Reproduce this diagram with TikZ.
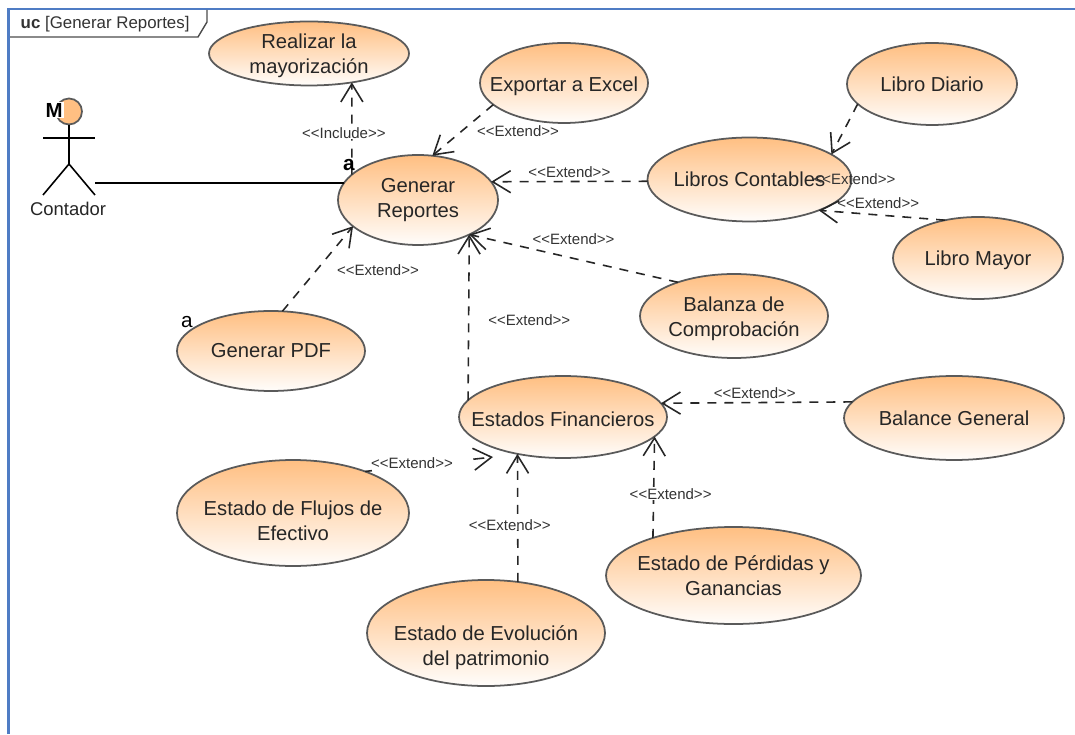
\documentclass[tikz,border=0pt]{standalone}
\usepackage{fontspec}
\setmainfont{Liberation Sans}
\usepackage{xcolor}
\usetikzlibrary{shapes.geometric, arrows.meta}
\definecolor{caseTop}{HTML}{FFBF82}
\definecolor{caseBottom}{HTML}{FFFDFB}
\definecolor{frameBlue}{HTML}{4F7CC4}
\definecolor{caseLine}{HTML}{5A5A5A}
\newcommand{\extendLbl}{<{}<Extend>{}>}
\tikzset{
    usecase/.style={ellipse, draw=caseLine, line width=.5pt, top color=caseTop, bottom color=caseBottom, inner xsep=-6mm, inner ysep=-2.5mm, outer sep=0pt, align=center, text=black!85, font=\fontsize{5.75}{7.1}\selectfont},
    lbl/.style={inner sep=0pt, text=black!80, font=\fontsize{4.27}{5}\selectfont},
    dep/.style={->, line width=.45pt, black!85, dash pattern=on .9mm off .8mm},
}
\begin{document}
\begin{tikzpicture}[>={Straight Barb[length=1.8mm, width=2.2mm]}]
        \useasboundingbox (0, 0) rectangle (10.75, -7.34);
        \draw[frameBlue, line width=.6pt] (.085, -7.34) |- (10.75, -.09);
        \draw[black!70, line width=.4pt] (.1, -.37) -- (1.98, -.37) -- (2.07, -.22) -- (2.07, -.1);
        \node[inner sep=0pt, anchor=west, font=\fontsize{4.8}{5}\selectfont, text=black!80] (frameTag) at (.2, -.24) {\textbf{uc} [Generar Reportes]};

        \node[usecase, minimum width=2cm, minimum height=.64cm, text height=12.3pt] (realizar) at (3.09, -.535) {Realizar la\\mayorización};
        \node[usecase, minimum width=1.68cm, minimum height=.8cm, text height=5.8pt] (exportar) at (5.64, -.83) {Exportar a Excel};
        \node[usecase, minimum width=1.7cm, minimum height=.82cm] (diario) at (9.32, -.84) {Libro Diario};
        \node[usecase, minimum width=2.04cm, minimum height=.84cm] (libros) at (7.495, -1.795) {Libros Contables};
        \node[usecase, minimum width=1.6cm, minimum height=.9cm] (generar) at (4.18, -2) {Generar\\Reportes};
        \node[usecase, minimum width=1.7cm, minimum height=.82cm, text height=5.2pt] (mayor) at (9.78, -2.58) {Libro Mayor};
        \node[usecase, minimum width=1.88cm, minimum height=.84cm, text height=12.9pt] (balanza) at (7.34, -3.16) {Balanza de\\Comprobación};
        \node[usecase, minimum width=1.88cm, minimum height=.8cm] (pdf) at (2.71, -3.51) {Generar PDF};
        \node[usecase, minimum width=2.08cm, minimum height=.82cm, text height=5.2pt] (estados) at (5.63, -4.17) {Estados Financieros};
        \node[usecase, minimum width=2.2cm, minimum height=.84cm] (balance) at (9.54, -4.18) {Balance General};
        \node[usecase, minimum width=2.32cm, minimum height=1.06cm, text height=15.75pt] (flujos) at (2.93, -5.13) {Estado de Flujos de\\Efectivo};
        \node[usecase, minimum width=2.38cm, minimum height=1.06cm, text height=19.7pt] (evolucion) at (4.86, -6.33) {Estado de Evolución\\del patrimonio};
        \node[usecase, minimum width=2.55cm, minimum height=.97cm] (perdidas) at (7.335, -5.755) {Estado de Pérdidas y\\Ganancias};

        \node[circle, draw=caseLine, line width=.5pt, fill=caseTop, minimum size=.26cm, inner sep=0pt] (head) at (.69, -1.115) {};
        \node[fill=white, inner sep=.3pt, font=\fontsize{5.8}{6}\selectfont\bfseries] (headMark) at (.54, -1.1) {M};
        \coordinate (armL) at (.43, -1.38);
        \coordinate (armR) at (.95, -1.38);
        \coordinate (hip) at (.69, -1.64);
        \coordinate (legL) at (.43, -1.95);
        \coordinate (legR) at (.95, -1.95);
        \coordinate (actorEnd) at (.95, -1.83);
        \node[inner sep=0pt, text=black!85, font=\fontsize{5.25}{6}\selectfont] (contador) at (.68, -2.09) {Contador};
        \draw[line width=.45pt] (head) -- (hip);
        \draw[line width=.45pt] (armL) -- (armR);
        \draw[line width=.45pt] (legL) -- (hip) -- (legR);
        \draw[line width=.5pt] (actorEnd) -- (generar.167);

        \draw[dep] (generar.159) to node[lbl, fill=white, pos=.45, xshift=-.08cm] {<{}<Include>{}>} (realizar.-34);
        \draw[dep] (exportar.197) to node[lbl, right=1.35mm, yshift=-.01cm] {\extendLbl} (generar.72.5);
        \draw[dep] (libros.181) to node[lbl, above=.35mm] {\extendLbl} (generar.14.7);
        \draw[dep] (diario.195) to node[lbl, pos=1, xshift=.23cm, yshift=-.25cm] {\extendLbl} (libros.17.5);
        \draw[dep] (mayor.131.7) to node[lbl, pos=.53, above=.6mm] {\extendLbl} (libros.-24);
        \draw[dep] (balanza.149) to node[lbl, above=1.3mm] {\extendLbl} (generar.-34.7);
        \draw[dep] (estados.170) to node[lbl, pos=.484, right=1.9mm] {\extendLbl} (generar.-34);
        \draw[dep] (pdf.74.4) to node[lbl, right=1.85mm, yshift=-.01cm] {\extendLbl} (generar.202.4);

        \draw[dep] (balance.171.7) to node[lbl, pos=.51, above=.3mm] {\extendLbl} (estados.8.15);
        \coordinate (flujosTip) at (4.93, -4.57);
        \draw[dep, dash pattern=on .7mm off 10.2mm on 1.1mm off 5mm] (flujos.30) to node[lbl, pos=.367, yshift=.03cm] {\extendLbl} (flujosTip);
        \draw[dep] (evolucion.58) to node[lbl, fill=white, pos=.445, xshift=-.08cm] {\extendLbl} (estados.219.4);
        \draw[dep] (perdidas.155) to node[lbl, fill=white, pos=.43, xshift=.17cm] {\extendLbl} (estados.-12.8);

        \node[inner sep=0pt, font=\fontsize{5.9}{6}\selectfont\bfseries] (markGenerar) at (3.49, -1.65) {a};
        \node[inner sep=0pt, font=\fontsize{5.9}{6}\selectfont] (markPdf) at (1.87, -3.22) {a};
    \end{tikzpicture}
\end{document}
